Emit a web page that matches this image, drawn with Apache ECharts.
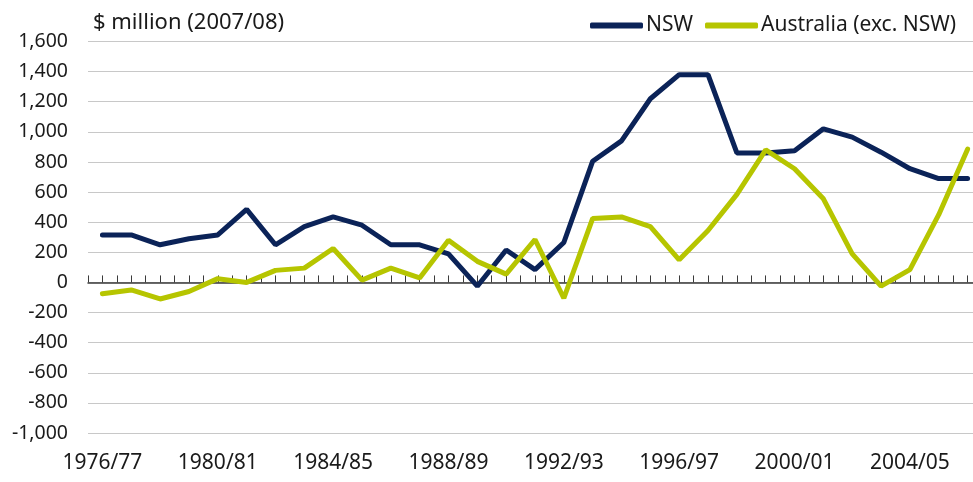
<!DOCTYPE html>
<html>
<head>
<meta charset="utf-8">
<script src="https://cdn.jsdelivr.net/npm/echarts@6/dist/echarts.min.js"></script>
<style>
  html, body { margin: 0; padding: 0; background: #fff; }
  #main { width: 973px; height: 482px; }
</style>
</head>
<body>
<div id="main"></div>
<script>
// financial years 1976/77 .. 2006/07
var years = [
  '1976/77', '1977/78', '1978/79', '1979/80', '1980/81', '1981/82', '1982/83', '1983/84',
  '1984/85', '1985/86', '1986/87', '1987/88', '1988/89', '1989/90', '1990/91', '1991/92',
  '1992/93', '1993/94', '1994/95', '1995/96', '1996/97', '1997/98', '1998/99', '1999/00',
  '2000/01', '2001/02', '2002/03', '2003/04', '2004/05', '2005/06', '2006/07'
]
var nsw = [
  315, 315, 250, 290, 315, 485, 250, 370, 435, 380, 250, 250, 190, -25, 215, 85,
  265, 805, 940, 1220, 1380, 1380, 860, 860, 875, 1020, 965, 865, 755, 690, 690
]
var ausExNsw = [
  -75, -50, -110, -60, 25, 0, 80, 95, 225, 15, 95, 30, 280, 140, 55, 285,
  -105, 425, 435, 370, 150, 345, 585, 880, 755, 555, 190, -25, 85, 450, 885
]
var yMin = -1000, yMax = 1600, yStep = 200

var font = 'Noto Sans'
var navy = '#0b2358'
var lime = '#b6c500'

var myChart = echarts.init(document.getElementById('main'))
var option = {
  animation: false,
  textStyle: { fontFamily: font },
  title: {
    text: '$ million (2007/08)',
    left: 88,
    top: 7,
    textStyle: { fontFamily: font, fontSize: 22, fontWeight: 'normal', color: '#1a1a1a' }
  },
  legend: {
    left: 583,
    top: 0,
    padding: [15, 8, 4, 7],
    backgroundColor: '#fff',
    itemGap: 12,
    itemWidth: 53,
    itemHeight: 6,
    icon: 'roundRect',
    textStyle: { fontFamily: font, fontSize: 21, color: '#1a1a1a', padding: [0, 0, 0, -2] },
    data: ['NSW', 'Australia (exc. NSW)']
  },
  // the plot runs a little past the right edge of the picture
  grid: { left: 88, width: 894, top: 41.5, bottom: 49, outerBoundsMode: 'none', containLabel: false },
  xAxis: [
    {
      // labels along the bottom
      type: 'category',
      data: years,
      boundaryGap: true,
      position: 'bottom',
      axisLine: { show: false, onZero: false },
      axisTick: { show: false },
      axisLabel: { interval: 3, margin: 20, fontSize: 21, color: '#1a1a1a' },
      splitLine: { show: false }
    },
    {
      // zero line with ticks at category centres and boundaries
      type: 'value',
      min: -0.5,
      max: years.length - 0.5,
      interval: 0.5,
      position: 'bottom',
      axisLine: { show: true, onZero: true, lineStyle: { color: '#3a3a3a', width: 1.5 } },
      axisTick: { show: true, inside: true, length: 7, lineStyle: { color: '#3a3a3a' } },
      axisLabel: { show: false },
      splitLine: { show: false }
    }
  ],
  yAxis: {
    type: 'value',
    min: yMin,
    max: yMax,
    interval: yStep,
    axisLine: { show: false },
    axisTick: { show: false },
    axisLabel: {
      margin: 20,
      fontSize: 19.5,
      color: '#1a1a1a',
      formatter: function (v) { return v.toLocaleString('en-US') }
    },
    splitLine: { lineStyle: { color: '#c8c8c8', width: 1 } }
  },
  series: [
    {
      name: 'NSW',
      type: 'line',
      xAxisIndex: 0,
      data: nsw,
      symbol: 'none',
      color: navy,
      lineStyle: { width: 5, color: navy, cap: 'round' }
    },
    {
      name: 'Australia (exc. NSW)',
      type: 'line',
      xAxisIndex: 0,
      data: ausExNsw,
      symbol: 'none',
      color: lime,
      lineStyle: { width: 5, color: lime, cap: 'round' }
    }
  ]
}
myChart.setOption(option)
</script>
</body>
</html>
